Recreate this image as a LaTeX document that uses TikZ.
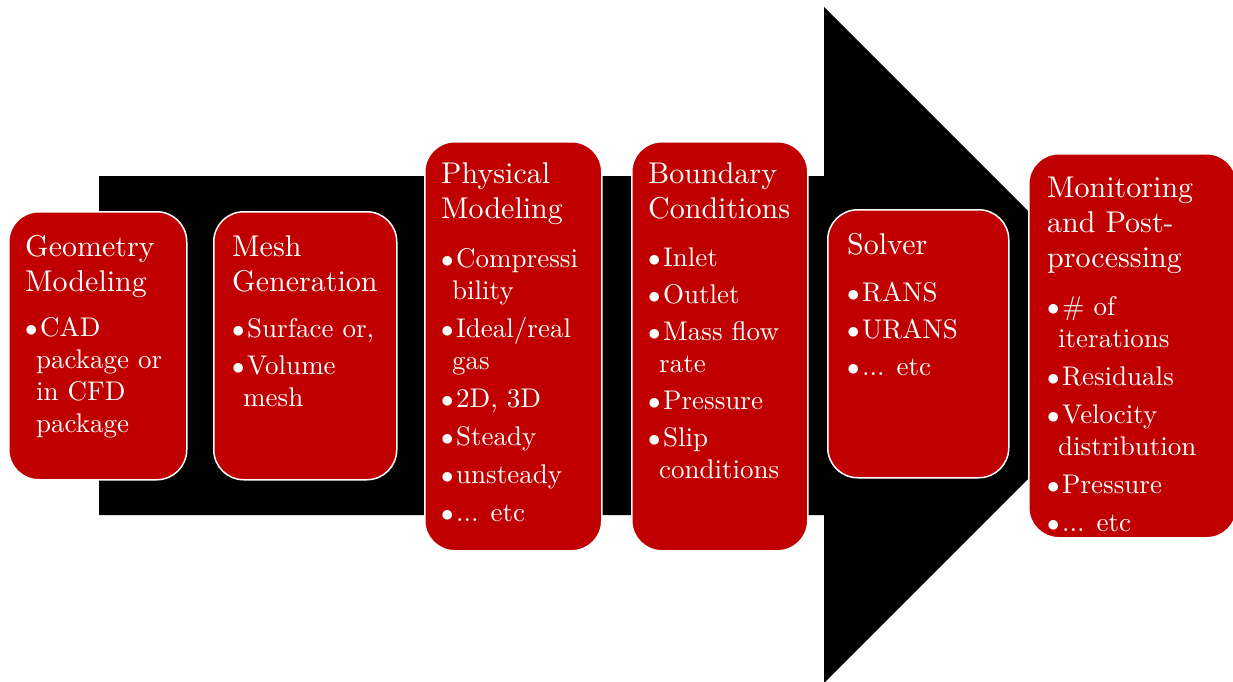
\documentclass[tikz,border=0pt]{standalone}
\usepackage{fontspec}
\setmainfont{lmroman10-regular.otf}
\usepackage{tikz}
\definecolor{rot}{HTML}{C00000}
\tikzset{
  pfeil/.style={fill=black},
  kasten/.style={draw=white,line width=1.5pt,fill=rot,rounded corners=30pt,inner sep=0pt,anchor=north west},
  titel/.style={text=white,font=\fontsize{30}{35}\selectfont,align=left,anchor=north west,inner sep=0pt},
  liste/.style={text=white,font=\fontsize{27}{32}\selectfont,align=left,anchor=north west,inner sep=0pt},
}
\newcommand{\pkt}{\makebox[13pt][l]{\hspace*{-2pt}$\bullet$}}
\newcommand{\einr}{\hspace*{9pt}}

\begin{document}
\begin{tikzpicture}[x=1pt,y=-1pt]
  \useasboundingbox (0,0) rectangle (1233,681);
  \fill[pfeil] (99,176)--(824,176)--(824,7)--(1162,345)--(824,683)--(824,515)--(99,515)--cycle;

  \node[kasten,minimum width=178pt,minimum height=268pt] (geo) at (8,211) {};
  \node[titel] (geot) at (25,235) {Geometry\\Modeling};
  \node[liste] (geol) at (27,317) {\pkt CAD\\ \einr package or\\ \einr in CFD\\ \einr package};

  \node[kasten,minimum width=183pt,minimum height=268pt] (netz) at (213,211) {};
  \node[titel] (netzt) at (232,235) {Mesh\\Generation};
  \node[liste] (netzl) at (234,318) {\pkt Surface or,\\[5pt]\pkt Volume\\ \einr mesh};

  \node[kasten,minimum width=177pt,minimum height=409pt] (phys) at (424,141) {};
  \node[titel] (physt) at (441,162) {Physical\\Modeling};
  \node[liste] (physl) at (443,248) {\pkt Compressi\\ \einr bility\\[6pt]\pkt Ideal/real\\ \einr gas\\[6pt]\pkt 2D, 3D\\[6pt]\pkt Steady\\[6pt]\pkt unsteady\\[6pt]\pkt ... etc};

  \node[kasten,minimum width=176pt,minimum height=409pt] (rand) at (631,141) {};
  \node[titel] (randt) at (648,162) {Boundary\\Conditions};
  \node[liste] (randl) at (650,248) {\pkt Inlet\\[5pt]\pkt Outlet\\[5pt]\pkt Mass flow\\ \einr rate\\[5pt]\pkt Pressure\\[5pt]\pkt Slip\\ \einr conditions};

  \node[kasten,minimum width=181pt,minimum height=268pt] (loes) at (827,209) {};
  \node[titel] (loest) at (847,233) {Solver};
  \node[liste] (loesl) at (849,282) {\pkt RANS\\[5pt]\pkt URANS\\[5pt]\pkt ... etc};

  \node[kasten,minimum width=208pt,minimum height=384pt] (ausw) at (1028,153) {};
  \node[titel] (auswt) at (1047,177) {Monitoring\\and Post-\\processing};
  \node[liste] (auswl) at (1049,296) {\pkt\# of\\ \einr iterations\\[6pt]\pkt Residuals\\[6pt]\pkt Velocity\\ \einr distribution\\[6pt]\pkt Pressure\\[6pt]\pkt ... etc};
\end{tikzpicture}
\end{document}
